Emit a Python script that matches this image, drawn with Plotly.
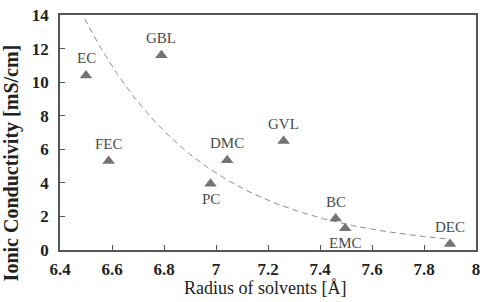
import numpy as np
import plotly.graph_objects as go

solvents = ["EC", "GBL", "FEC", "PC", "DMC", "GVL", "BC", "EMC", "DEC"]
radius = [6.50, 6.79, 6.587, 6.979, 7.043, 7.26, 7.46, 7.497, 7.90]
conductivity = [10.4, 11.6, 5.3, 3.95, 5.34, 6.5, 1.87, 1.29, 0.36]
label_side = ["above", "above", "above", "below", "above", "above", "above", "below", "above"]

# exponential trendline y = exp(fit_ln0 - fit_k * (x - fit_x0))
fit_x0 = 6.495
fit_ln0 = 2.623
fit_k = 2.18
fit_x_start = 6.495
fit_x_end = 7.90

x_ticks = [6.4, 6.6, 6.8, 7.0, 7.2, 7.4, 7.6, 7.8, 8.0]
y_ticks = [0, 2, 4, 6, 8, 10, 12, 14]

fx = np.linspace(fit_x_start, fit_x_end, 200)
fy = np.exp(fit_ln0 - fit_k * (fx - fit_x0))

fig = go.Figure()
fig.add_trace(go.Scatter(x=fx, y=fy, mode="lines",
                         line=dict(color="#8a8a8a", width=1, dash="6px,4px"),
                         hoverinfo="skip", showlegend=False))
fig.add_trace(go.Scatter(x=radius, y=conductivity, mode="markers",
                         marker=dict(symbol="triangle-up", size=11, color="#747474",
                                     line=dict(width=0)),
                         showlegend=False))

for name, xv, yv, side in zip(solvents, radius, conductivity, label_side):
    fig.add_annotation(x=xv, y=yv, text=name, showarrow=False,
                       yshift=17 if side == "above" else -15,
                       font=dict(family="Liberation Serif", size=15, color="#4a4a4a"))

fig.add_annotation(text="Radius of solvents [Å]", xref="paper", yref="paper",
                   x=0.493, y=-0.163, xanchor="center", yanchor="middle", showarrow=False,
                   font=dict(family="Liberation Serif", size=18, color="#222222"))
fig.add_annotation(text="Ionic Conductivity [mS/cm]", xref="paper", yref="paper",
                   x=-0.117, y=0.37, xanchor="center", yanchor="middle", showarrow=False,
                   textangle=-90,
                   font=dict(family="Liberation Serif", size=20, color="#222222",
                             weight="bold"))

axis_common = dict(showgrid=False, zeroline=False, ticks="inside", ticklen=5,
                   tickcolor="#555555", showline=True, linecolor="#555555",
                   linewidth=1.5, mirror=True, ticklabeloverflow="allow",
                   tickfont=dict(family="Liberation Serif", size=17, color="#222222",
                                 weight="bold"))

fig.update_xaxes(range=[6.4, 8.0], tickvals=x_ticks,
                 ticktext=[("%g" % v) for v in x_ticks], ticklabelstandoff=3,
                 **axis_common)
fig.update_yaxes(range=[0, 14.0], tickvals=y_ticks,
                 ticktext=[str(v) for v in y_ticks], ticklabelstandoff=6,
                 **axis_common)

fig.update_layout(width=486, height=302, margin=dict(l=60, r=6, t=9, b=52),
                  paper_bgcolor="white", plot_bgcolor="white",
                  font=dict(family="Liberation Serif"))

fig.write_html("out.html")
